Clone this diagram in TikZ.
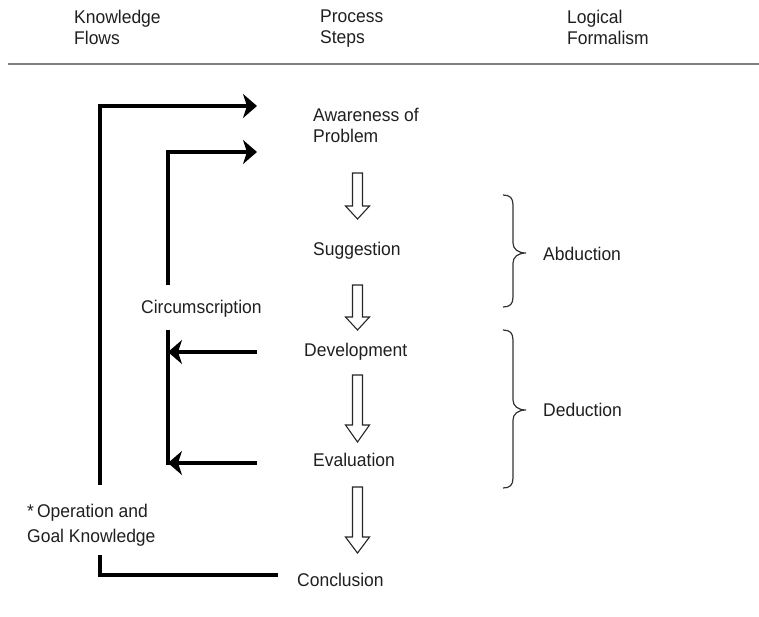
\documentclass[tikz,border=0pt]{standalone}
\usepackage{fontspec}
\setmainfont[FakeStretch=0.95]{Liberation Sans}
\usetikzlibrary{arrows.meta}
\begin{document}
\begin{tikzpicture}[x=1pt,y=-1pt,
  lbl/.style={inner sep=0pt, anchor=base west, font=\fontsize{18.4}{21}\selectfont, text=black!88},
  mlbl/.style={lbl, anchor=north west, align=left},
  flow/.style={line width=4pt, draw=black},
  flowarr/.style={flow, -{Stealth[length=14pt,width=24pt,inset=4pt]}},
  hollowarr/.style={draw=black!85, line width=1.1pt, fill=white, line join=miter},
  bracestyle/.style={draw=black!80, line width=1.2pt},
  rulestyle/.style={draw=black!50, line width=2pt}]
\useasboundingbox (0,0) rectangle (759,616);
% header
\node[mlbl] (kf) at (74,10) {Knowledge\\Flows};
\node[mlbl] (ps) at (320,10) {Process\\Steps};
\node[mlbl] (lf) at (567,10) {Logical\\Formalism};
\coordinate (rl) at (8,64);
\coordinate (rr) at (759,64);
\draw[rulestyle] (rl) -- (rr);
% process steps
\node[mlbl] (aw) at (313,108) {Awareness of\\Problem};
\node[lbl] (sug) at (313,255.5) {Suggestion};
\node[lbl] (dev) at (304,356.5) {Development};
\node[lbl] (eva) at (313,466.5) {Evaluation};
\node[lbl] (con) at (297,586.5) {Conclusion};
\node[lbl] (cir) at (141,313.5) {Circumscription};
\node[mlbl, font=\fontsize{18.4}{25}\selectfont] (op) at (27,504) {*\,Operation and\\Goal Knowledge};
\node[lbl] (abd) at (543,260.5) {Abduction};
\node[lbl] (ded) at (543,416.5) {Deduction};
% hollow arrows
\draw[hollowarr] (352.5,173) -- (362.5,173) -- (362.5,206) -- (369.5,206) -- (357.5,219) -- (345.5,206) -- (352.5,206) -- cycle;
\draw[hollowarr] (352.5,285) -- (362.5,285) -- (362.5,317) -- (369.5,317) -- (357.5,330) -- (345.5,317) -- (352.5,317) -- cycle;
\draw[hollowarr] (352.5,375) -- (362.5,375) -- (362.5,425) -- (369.5,425) -- (357.5,442) -- (345.5,425) -- (352.5,425) -- cycle;
\draw[hollowarr] (352.5,487) -- (362.5,487) -- (362.5,537) -- (369.5,537) -- (357.5,553) -- (345.5,537) -- (352.5,537) -- cycle;
% knowledge flows
\coordinate (o1) at (100,485);
\coordinate (o2) at (100,106);
\coordinate (o3) at (257,106);
\draw[flowarr] (o1) -- (o2) -- (o3);
\coordinate (i1) at (168,285);
\coordinate (i2) at (168,152);
\coordinate (i3) at (257,152);
\draw[flowarr] (i1) -- (i2) -- (i3);
\coordinate (c1) at (168,330);
\coordinate (c2) at (168,465);
\draw[flow] (c1) -- (c2);
\coordinate (d1) at (257,352);
\coordinate (d2) at (168,352);
\draw[flowarr] (d1) -- (d2);
\coordinate (e1) at (257,463);
\coordinate (e2) at (168,463);
\draw[flowarr] (e1) -- (e2);
\coordinate (b1) at (100,555);
\coordinate (b2) at (100,575);
\coordinate (b3) at (278,575);
\draw[flow] (b1) -- (b2) -- (b3);
% braces
\draw[bracestyle] (503,195) .. controls (510,195) and (513,198) .. (513,205) -- (513,243)
  .. controls (513,249) and (518,253) .. (526,253)
  .. controls (518,253) and (513,257) .. (513,263) -- (513,297)
  .. controls (513,304) and (510,307) .. (503,307);
\draw[bracestyle] (503,330) .. controls (510,330) and (513,333) .. (513,340) -- (513,400)
  .. controls (513,406) and (518,410) .. (526,410)
  .. controls (518,410) and (513,414) .. (513,420) -- (513,478)
  .. controls (513,485) and (510,488) .. (503,488);
\end{tikzpicture}
\end{document}
